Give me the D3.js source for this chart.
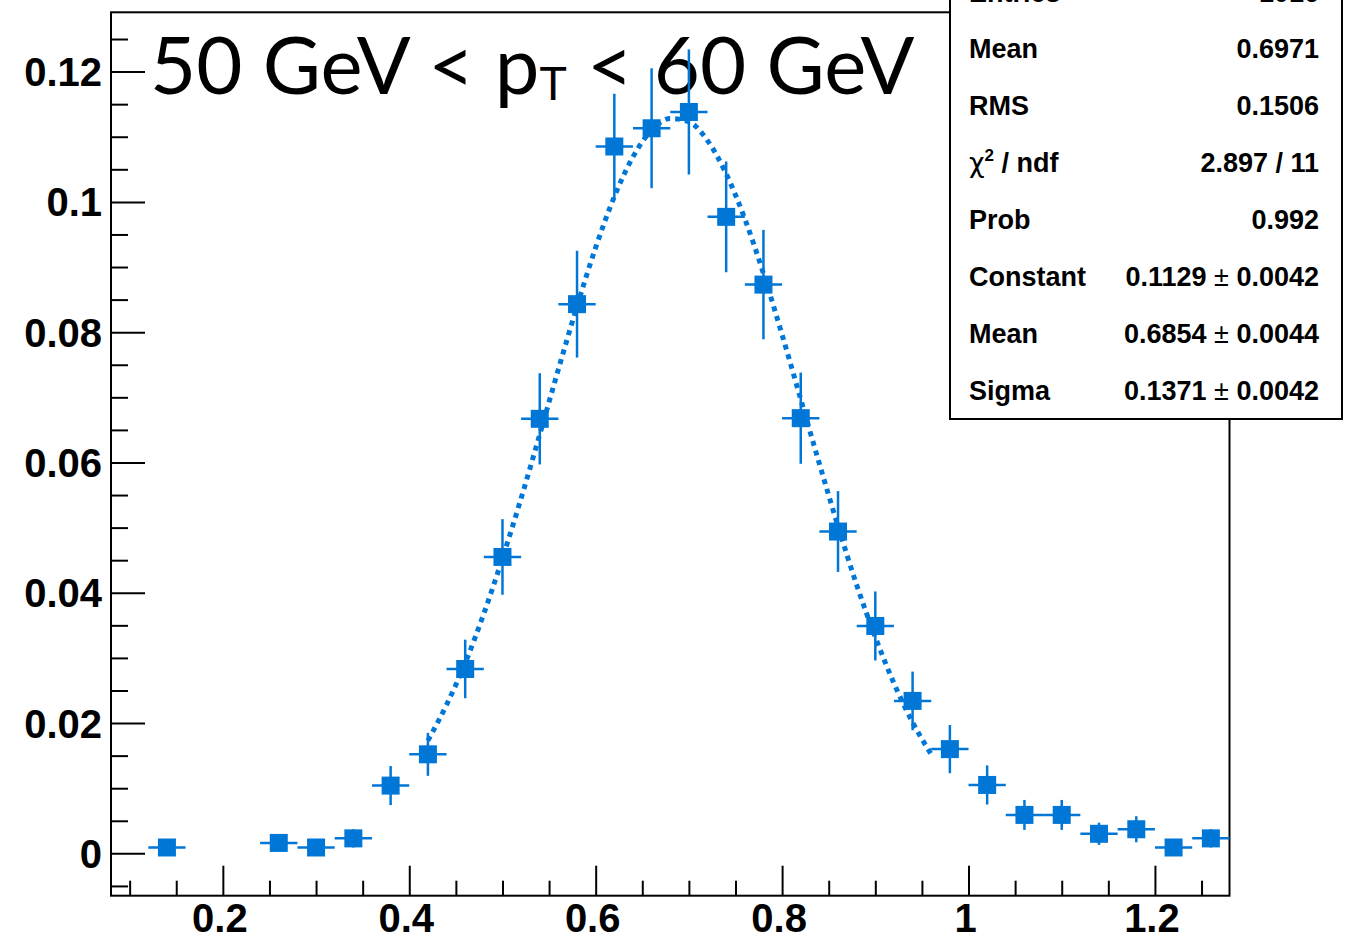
<!DOCTYPE html>
<html>
<head>
<meta charset="utf-8">
<script src="https://cdn.jsdelivr.net/npm/d3@7"></script>
<style>
  html, body { margin: 0; padding: 0; background: #fff; }
  svg { display: block; }
</style>
</head>
<body>
<svg id="chart" width="1353" height="939"></svg>
<script>
// ---------------- data ----------------
const binCenters = [0.14, 0.26, 0.30, 0.34, 0.38, 0.42, 0.46, 0.50, 0.54, 0.58, 0.62, 0.66, 0.70, 0.74,
                    0.78, 0.82, 0.86, 0.90, 0.94, 0.98, 1.02, 1.06, 1.10, 1.14, 1.18, 1.22, 1.26];
const binValues  = [0.0009, 0.0016, 0.0009, 0.0023, 0.0104, 0.0152, 0.0283, 0.0455, 0.0667, 0.0843, 0.1085, 0.1113, 0.1138, 0.0977,
                    0.0873, 0.0668, 0.0494, 0.0349, 0.0234, 0.0160, 0.0105, 0.0059, 0.0059, 0.0030, 0.0037, 0.0009, 0.0023];
const binErrors  = [0.0008, 0.0011, 0.0008, 0.0014, 0.0030, 0.0033, 0.0045, 0.0058, 0.0070, 0.0082, 0.0081, 0.0092, 0.0096, 0.0085,
                    0.0084, 0.0070, 0.0062, 0.0053, 0.0045, 0.0037, 0.0030, 0.0023, 0.0023, 0.0017, 0.0020, 0.0009, 0.0014];
const binHalfWidth = 0.02;

// fit curve (dotted)
const fitX = [0.42, 0.44, 0.46, 0.48, 0.50, 0.52, 0.54, 0.56, 0.58, 0.60, 0.62, 0.64, 0.66, 0.68,
              0.70, 0.72, 0.74, 0.76, 0.78, 0.80, 0.82, 0.84, 0.86, 0.88, 0.90, 0.92, 0.94, 0.96];
const fitY = [0.0173, 0.0228, 0.0292, 0.0368, 0.0453, 0.0545, 0.0643, 0.0743, 0.0840, 0.0930, 0.1008, 0.1069, 0.1110, 0.1128,
              0.1123, 0.1094, 0.1043, 0.0974, 0.0890, 0.0796, 0.0697, 0.0598, 0.0502, 0.0412, 0.0332, 0.0261, 0.0201, 0.0152];

const xMajorTicks = [0.2, 0.4, 0.6, 0.8, 1.0, 1.2];
const xTickLabels = ["0.2", "0.4", "0.6", "0.8", "1", "1.2"];
const xMinorTicks = [0.10, 0.15, 0.25, 0.30, 0.35, 0.45, 0.50, 0.55, 0.65, 0.70, 0.75, 0.85, 0.90, 0.95, 1.05, 1.10, 1.15, 1.25];
const yMajorTicks = [0, 0.02, 0.04, 0.06, 0.08, 0.10, 0.12];
const yTickLabels = ["0", "0.02", "0.04", "0.06", "0.08", "0.1", "0.12"];
const yMinorTicks = [-0.005, 0.005, 0.010, 0.015, 0.025, 0.030, 0.035, 0.045, 0.050, 0.055, 0.065, 0.070, 0.075,
                     0.085, 0.090, 0.095, 0.105, 0.110, 0.115, 0.125];

const statLabels = ["Entries", "Mean", "RMS", "CHI", "Prob", "Constant", "Mean", "Sigma"];
const statValues = ["1016", "0.6971", "0.1506", "2.897 / 11", "0.992", "0.1129", "0.6854", "0.1371"];
const statErrors = [null, null, null, null, null, "0.0042", "0.0044", "0.0042"];

const titleParts = ["50 GeV < p", "T", " < 60 GeV"];

// ---------------- layout ----------------
const blue = "#0077d6";
const svg = d3.select("#chart");
svg.append("rect").attr("width", 1353).attr("height", 939).attr("fill", "#fff");

const x = d3.scaleLinear().domain([0.08, 1.28]).range([111, 1229.5]);
const y = d3.scaleLinear().domain([-0.0065, 0.1291]).range([895.7, 12.3]);

// frame
svg.append("rect")
  .attr("x", x(0.08)).attr("y", y(0.1291))
  .attr("width", x(1.28) - x(0.08)).attr("height", y(-0.0065) - y(0.1291))
  .attr("fill", "none").attr("stroke", "#000").attr("stroke-width", 2);

// axes with inward ticks
const gx = svg.append("g").attr("transform", `translate(0,${y(-0.0065)})`);
gx.call(d3.axisTop(x).tickValues(xMajorTicks).tickSize(30).tickFormat(""));
gx.append("g").call(d3.axisTop(x).tickValues(xMinorTicks).tickSize(15).tickFormat(""));
gx.selectAll(".domain").remove();
gx.selectAll("line").attr("stroke", "#000").attr("stroke-width", 2);

const labelFont = "'Liberation Sans', Arial, Helvetica, sans-serif";
svg.append("g").selectAll("text").data(xMajorTicks).join("text")
  .attr("x", (d) => x(d) - 3).attr("y", 932)
  .attr("text-anchor", "middle")
  .attr("font-family", labelFont)
  .attr("font-weight", "bold").attr("font-size", 40)
  .text((d, i) => xTickLabels[i]);

const gy = svg.append("g").attr("transform", `translate(${x(0.08)},0)`);
gy.call(d3.axisRight(y).tickValues(yMajorTicks).tickSize(34).tickFormat(""));
gy.append("g").call(d3.axisRight(y).tickValues(yMinorTicks).tickSize(17).tickFormat(""));
gy.selectAll(".domain").remove();
gy.selectAll("line").attr("stroke", "#000").attr("stroke-width", 2);

svg.append("g").selectAll("text").data(yMajorTicks).join("text")
  .attr("x", 102).attr("y", (d) => y(d) + 14.5)
  .attr("text-anchor", "end")
  .attr("font-family", labelFont)
  .attr("font-weight", "bold").attr("font-size", 40)
  .text((d, i) => yTickLabels[i]);

// title
const title = svg.append("text")
  .attr("x", 150).attr("y", 94)
  .attr("font-family", "'Gill Sans', 'Gill Sans MT', Lato, sans-serif")
  .attr("font-size", 76).attr("fill", "#000");
title.append("tspan").text(titleParts[0]);
title.append("tspan").attr("font-size", 44).attr("dy", 6).text(titleParts[1]);
title.append("tspan").attr("dy", -6).text(titleParts[2]);
const tw = title.node().getBBox().width;
const k = 765 / tw;
title.attr("font-size", 76 * k);
title.selectAll("tspan").filter((d, i) => i === 1).attr("font-size", 44 * k);

// data points
const data = binCenters.map((c, i) => ({ c, v: binValues[i], e: binErrors[i] }));
const gp = svg.append("g");
gp.selectAll("line.h").data(data).join("line").attr("class", "h")
  .attr("x1", (d) => x(d.c - binHalfWidth)).attr("x2", (d) => x(d.c + binHalfWidth))
  .attr("y1", (d) => y(d.v)).attr("y2", (d) => y(d.v))
  .attr("stroke", blue).attr("stroke-width", 2.5);
gp.selectAll("line.v").data(data).join("line").attr("class", "v")
  .attr("x1", (d) => x(d.c)).attr("x2", (d) => x(d.c))
  .attr("y1", (d) => y(d.v - d.e)).attr("y2", (d) => y(d.v + d.e))
  .attr("stroke", blue).attr("stroke-width", 2.5);
gp.selectAll("rect").data(data).join("rect")
  .attr("x", (d) => x(d.c) - 9).attr("y", (d) => y(d.v) - 9)
  .attr("width", 18).attr("height", 18).attr("fill", blue);

// fit curve (drawn over the markers, as in the reference)
const pts = fitX.map((v, i) => [v, fitY[i]]);
svg.append("path")
  .attr("d", d3.line().x((d) => x(d[0])).y((d) => y(d[1])).curve(d3.curveMonotoneX)(pts))
  .attr("fill", "none").attr("stroke", blue)
  .attr("stroke-width", 5).attr("stroke-dasharray", "5,5");

// stats box
svg.append("rect")
  .attr("x", 950).attr("y", -10).attr("width", 392).attr("height", 429)
  .attr("fill", "#fff").attr("stroke", "#000").attr("stroke-width", 2);

const gs = svg.append("g").attr("font-family", labelFont).attr("font-size", 27).attr("font-weight", "bold");
statLabels.forEach((lab, i) => {
  const by = 1.5 + i * 56.9;
  const t = gs.append("text").attr("x", 969).attr("y", by);
  if (lab === "CHI") {
    t.append("tspan").attr("font-weight", "normal").attr("font-family", "'DejaVu Sans', sans-serif").text("χ");
    t.append("tspan").attr("font-size", 17).attr("dy", -11).text("2");
    t.append("tspan").attr("dy", 11).text(" / ndf");
  } else {
    t.text(lab);
  }
  const tv = gs.append("text").attr("x", 1319).attr("y", by).attr("text-anchor", "end");
  tv.append("tspan").text(statValues[i]);
  if (statErrors[i]) {
    tv.append("tspan").attr("font-weight", "normal").text(" ± ");
    tv.append("tspan").text(statErrors[i]);
  }
});
</script>
</body>
</html>
